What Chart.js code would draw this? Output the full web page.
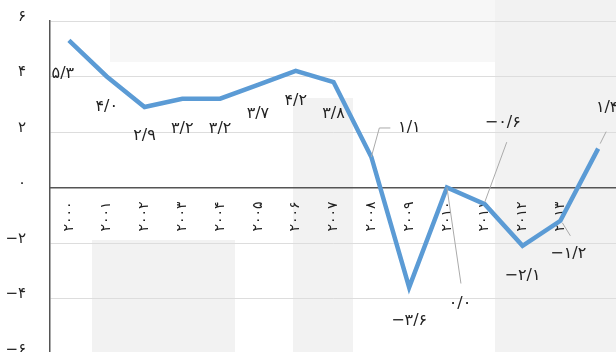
<!DOCTYPE html>
<html>
<head>
<meta charset="utf-8">
<script src="https://cdn.jsdelivr.net/npm/chart.js@4.4.1/dist/chart.umd.min.js"></script>
<style>
    html, body { margin: 0; padding: 0; background: #fff; overflow: hidden; }
    #wrap { position: absolute; left: 0; top: -12px; width: 629px; height: 399px; }
    .bg { position: absolute; background: #f2f2f2; }
</style>
</head>
<body>
<div class="bg" style="left:110px;top:0;width:506px;height:62px;background:#f7f7f7;"></div>
<div class="bg" style="left:92px;top:240px;width:143px;height:112px;"></div>
<div class="bg" style="left:293px;top:98px;width:60px;height:254px;"></div>
<div class="bg" style="left:495px;top:0;width:121px;height:352px;"></div>
<div id="wrap"><canvas id="lineChart"></canvas></div>
<script>
const years = [2000, 2001, 2002, 2003, 2004, 2005, 2006, 2007, 2008, 2009, 2010, 2011, 2012, 2013, 2014];
const growth = [5.3, 4.0, 2.9, 3.2, 3.2, 3.7, 4.2, 3.8, 1.1, -3.6, 0.0, -0.6, -2.1, -1.2, 1.4];
const yTicks = [-6, -4, -2, 0, 2, 4, 6];

// where each value label sits relative to its point, and optional leader line
const labelOffsets = [
    [-6, 33], [0, 30], [0, 29], [0, 30], [0, 30], [0, 29], [0, 30], [0, 32],
    [38, -29], [0, 33], [13, 116], [18, -81], [0, 30], [8, 33], [9, -41]
];
const leaders = {
    8: [[0, 0], [8, -29], [19, -29]],
    10: [[0, 0], [14, 96]],
    11: [[0, -2], [22, -62]],
    13: [[2, 2], [10, 15]],
    14: [[2, -5], [8, -17]]
};

const faDigits = '۰۱۲۳۴۵۶۷۸۹';
function toFa(str) {
    return String(str).replace(/[0-9]/g, d => faDigits[d]).replace('.', '/').replace('-', '−');
}

const valueLabels = {
    id: 'valueLabels',
    afterDatasetsDraw(chart) {
        const ctx = chart.ctx;
        const meta = chart.getDatasetMeta(0);
        ctx.save();
        meta.data.forEach((pt, i) => {
            const lead = leaders[i];
            if (lead) {
                ctx.beginPath();
                ctx.strokeStyle = '#aaaaaa';
                ctx.lineWidth = 1;
                lead.forEach((p, j) => {
                    if (j === 0) ctx.moveTo(pt.x + p[0], pt.y + p[1]);
                    else ctx.lineTo(pt.x + p[0], pt.y + p[1]);
                });
                ctx.stroke();
            }
            const off = labelOffsets[i];
            ctx.fillStyle = '#222';
            ctx.font = '16px "DejaVu Sans"';
            ctx.textAlign = 'center';
            ctx.textBaseline = 'middle';
            ctx.fillText(toFa(growth[i].toFixed(1)), pt.x + off[0], pt.y + off[1]);
        });
        ctx.restore();
    }
};

new Chart(document.getElementById('lineChart'), {
    type: 'line',
    data: {
        labels: years,
        datasets: [{
            data: growth,
            borderColor: '#5b9bd5',
            borderWidth: 4.5,
            pointRadius: 0,
            tension: 0,
            fill: false
        }]
    },
    plugins: [valueLabels],
    options: {
        responsive: true,
        maintainAspectRatio: false,
        animation: false,
        layout: { padding: { top: 8, bottom: 8, right: 1, left: 0 } },
        plugins: { legend: { display: false }, tooltip: { enabled: false } },
        scales: {
            x: {
                offset: true,
                position: { y: 0 },
                grid: { display: true, color: 'rgba(0,0,0,0)', drawTicks: false },
                border: { display: true, color: '#555', width: 1.5 },
                ticks: {
                    minRotation: 90,
                    maxRotation: 90,
                    autoSkip: false,
                    padding: 14,
                    color: '#222',
                    font: { family: 'DejaVu Sans', size: 14 },
                    callback: function(val, i) {
                        return i === years.length - 1 ? '' : toFa(years[i]);
                    }
                }
            },
            y: {
                min: -6,
                max: 6,
                afterFit: function(scale) { scale.width = 50; },
                grid: { color: '#dddddd', drawTicks: false },
                border: { display: true, color: '#555', width: 1.5 },
                afterBuildTicks: function(scale) {
                    scale.ticks = yTicks.map(v => ({ value: v }));
                },
                ticks: {
                    padding: 24,
                    labelOffset: -4,
                    color: '#222',
                    font: { family: 'DejaVu Sans', size: 15 },
                    callback: v => toFa(v)
                }
            }
        }
    }
});
</script>
</body>
</html>
